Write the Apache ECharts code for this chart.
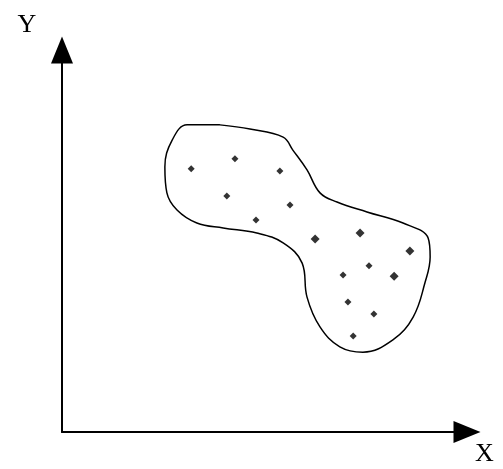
<!DOCTYPE html>
<html>
<head>
<meta charset="utf-8">
<script src="https://cdn.jsdelivr.net/npm/echarts@6/dist/echarts.min.js"></script>
<style>
  html, body { margin: 0; padding: 0; background: #fff; }
  #chart { width: 503px; height: 469px; }
</style>
</head>
<body>
<div id="chart"></div>
<script>
// 轴名称
const axisNames = ['X', 'Y'];

// 轮廓线上的点 (x, y), 首尾相同以闭合
const outline = [
  [39.0, 80.4], [46.4, 79.3], [54.6, 77.2], [57.0, 73.8], [60.5, 68.6],
  [63.7, 62.6], [67.9, 60.2], [75.3, 57.6], [84.2, 54.7], [90.4, 50.8],
  [90.9, 45.8], [89.6, 39.0], [86.7, 30.1], [81.7, 24.1], [74.3, 20.9],
  [68.6, 22.3], [63.7, 27.5], [60.5, 35.3], [59.3, 44.2], [54.6, 49.5],
  [48.1, 52.1], [39.8, 53.4], [33.3, 54.7], [28.4, 58.1], [25.9, 62.6],
  [25.4, 69.4], [27.2, 76.4], [30.9, 80.4], [39.0, 80.4]
];

// 小点
const smallDots = [
  [31.9, 68.9], [42.7, 71.5], [53.8, 68.3], [40.7, 61.8], [56.3, 59.4],
  [47.9, 55.5], [75.8, 43.5], [69.4, 41.1], [70.6, 34.0], [77.0, 30.9],
  [71.9, 25.1]
];

// 大点
const bigDots = [
  [62.5, 50.5], [73.6, 52.1], [85.9, 47.4], [82.0, 40.8]
];

const chart = echarts.init(document.getElementById('chart'));

const axisBase = {
  type: 'value',
  min: 0,
  max: 100,
  axisLine: {
    show: true,
    symbol: ['none', 'triangle'],
    symbolSize: [22, 27],
    lineStyle: { color: '#000', width: 2 }
  },
  axisTick: { show: false },
  axisLabel: { show: false },
  splitLine: { show: false }
};

chart.setOption({
  animation: false,
  grid: { left: 62, right: 36, top: 50, bottom: 37 },
  xAxis: Object.assign({}, axisBase, {
    name: axisNames[0],
    nameLocation: 'end',
    nameGap: 8,
    nameTextStyle: {
      fontFamily: 'Liberation Serif',
      fontSize: 26,
      color: '#000',
      verticalAlign: 'top',
      padding: [9, 0, 0, 0]
    }
  }),
  yAxis: Object.assign({}, axisBase, {
    name: axisNames[1],
    nameLocation: 'end',
    nameGap: 12,
    nameTextStyle: {
      fontFamily: 'Liberation Serif',
      fontSize: 26,
      color: '#000',
      padding: [0, 70, 0, 0]
    }
  }),
  series: [
    {
      type: 'line',
      data: outline,
      smooth: 0.4,
      showSymbol: false,
      lineStyle: { color: '#000', width: 1.5 }
    },
    {
      type: 'scatter',
      data: smallDots,
      symbol: 'diamond',
      symbolSize: 7,
      itemStyle: { color: '#000' }
    },
    {
      type: 'scatter',
      data: bigDots,
      symbol: 'diamond',
      symbolSize: 9,
      itemStyle: { color: '#000' }
    }
  ]
});
</script>
</body>
</html>
